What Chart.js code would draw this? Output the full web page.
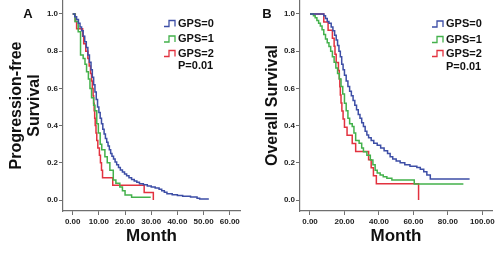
<!DOCTYPE html>
<html>
<head>
<meta charset="utf-8">
<script src="https://cdn.jsdelivr.net/npm/chart.js@4.4.1/dist/chart.umd.min.js"></script>
<style>
body { margin: 0; background: #fff; }
#wrap { position: relative; width: 501px; height: 253px; }
canvas { position: absolute; top: 0; }
#pfs { left: 0; }
#os { left: 250px; }
</style>
</head>
<body>
<div id="wrap">
<canvas id="pfs" width="250" height="253"></canvas>
<canvas id="os" width="251" height="253"></canvas>
</div>
<script>
// groups and labels
var groupLabels = ['GPS=0', 'GPS=1', 'GPS=2'];
var pValueText = 'P=0.01';
var yTicks = [0, 0.2, 0.4, 0.6, 0.8, 1.0];
var pfsXTicks = [0, 10, 20, 30, 40, 50, 60];
var osXTicks = [0, 20, 40, 60, 80, 100];

// progression-free survival, [month, survival]
var pfsGps0 = [[0,1],[0.8,0.985],[1.5,0.97],[2.2,0.95],[2.8,0.93],[3.4,0.91],[4,0.88],[4.6,0.85],[5.2,0.82],[5.8,0.78],[6.4,0.74],[7,0.7],[7.5,0.66],[8,0.62],[8.5,0.58],[9,0.54],[9.5,0.5],[10,0.47],[10.5,0.44],[11,0.41],[11.5,0.38],[12,0.355],[12.5,0.33],[13,0.31],[13.5,0.29],[14,0.27],[14.5,0.25],[15,0.235],[15.6,0.22],[16.2,0.205],[16.8,0.19],[17.5,0.175],[18.2,0.162],[19,0.15],[19.8,0.14],[20.6,0.13],[21.5,0.12],[22.5,0.11],[23.5,0.102],[24.5,0.095],[25.5,0.088],[27,0.082],[28.5,0.076],[30,0.07],[31.5,0.065],[33,0.058],[34,0.05],[35,0.042],[36,0.034],[38,0.028],[40,0.024],[42,0.02],[45,0.016],[47.5,0.01],[48.5,0.006],[52,0.006]];
var pfsGps1 = [[0,1],[0.9,0.96],[2.1,0.905],[3,0.78],[4,0.76],[4.7,0.73],[5.3,0.69],[6,0.65],[6.6,0.6],[7.2,0.55],[8,0.51],[8.5,0.48],[9.2,0.41],[9.8,0.36],[10.5,0.3],[11.1,0.27],[12.3,0.233],[13.2,0.2],[14.2,0.16],[15.5,0.107],[16.5,0.09],[18,0.07],[19,0.05],[20,0.027],[22.5,0.015],[29.8,0.015]];
var pfsGps2 = [[0,1],[1,0.96],[1.5,0.92],[3.8,0.88],[4.2,0.84],[5,0.8],[5.8,0.76],[6.3,0.72],[6.8,0.68],[7.2,0.64],[7.5,0.6],[7.8,0.56],[8,0.52],[8.2,0.48],[8.4,0.44],[8.6,0.4],[8.9,0.36],[9.2,0.32],[9.6,0.28],[10.2,0.24],[10.6,0.2],[11,0.16],[11.4,0.12],[15.3,0.08],[27.3,0.04],[30.8,0]];

// overall survival, [month, survival]
var osGps0 = [[0,1],[8,0.99],[9,0.975],[10,0.96],[11,0.95],[12.3,0.93],[13.3,0.91],[14.3,0.885],[15.2,0.86],[16,0.83],[16.8,0.8],[17.6,0.77],[18.4,0.73],[19.2,0.7],[20,0.67],[21,0.64],[22,0.61],[23,0.585],[24,0.56],[25,0.535],[26,0.51],[27,0.485],[28,0.46],[29,0.44],[30,0.415],[31,0.395],[32,0.37],[33,0.35],[34,0.335],[35.5,0.32],[37,0.305],[39,0.295],[41,0.28],[43,0.265],[45,0.25],[46.5,0.233],[48,0.22],[50,0.21],[52.3,0.2],[55,0.19],[58,0.182],[62,0.175],[64,0.165],[66,0.152],[67.8,0.134],[69.8,0.113],[92.6,0.113]];
var osGps1 = [[0,1],[2,0.99],[3,0.98],[4,0.965],[5,0.95],[6,0.935],[7,0.915],[8,0.89],[9,0.865],[10,0.845],[11,0.825],[12,0.8],[13,0.77],[14,0.74],[15,0.71],[16,0.68],[17,0.65],[18,0.61],[19,0.57],[20,0.52],[21,0.48],[22,0.44],[23,0.41],[24.5,0.395],[25.5,0.36],[26.5,0.32],[28.5,0.305],[30,0.28],[31,0.26],[33,0.24],[35,0.215],[36.5,0.19],[37.8,0.16],[39,0.145],[40.7,0.134],[42.5,0.125],[44.6,0.117],[47.5,0.107],[60.5,0.086],[89,0.086]];
var osGps2 = [[0,1],[8,0.957],[10.5,0.913],[13,0.87],[14,0.826],[14.5,0.783],[15.2,0.739],[16.5,0.696],[17,0.652],[17.3,0.609],[17.6,0.565],[18,0.522],[18.5,0.478],[19.2,0.435],[20,0.391],[21.5,0.348],[24.5,0.304],[26.5,0.261],[34,0.217],[35.5,0.174],[36.8,0.13],[38.5,0.087],[63,0.087],[63,0]];

var groupColors = ['#3d4ea6', '#43b14b', '#e2323f'];
var fontFam = '"Liberation Sans", Arial, sans-serif';

Chart.defaults.font.family = fontFam;
Chart.defaults.color = '#222';

// legend drawn inside the plot, SPSS style
var kmLegend = {
  id: 'kmLegend',
  afterDraw: function(chart, args, o) {
    var ctx = chart.ctx;
    ctx.save();
    ctx.font = 'bold 11px ' + fontFam;
    ctx.textBaseline = 'middle';
    ctx.lineWidth = 1.3;
    chart.data.datasets.forEach(function(ds, i) {
      var y = o.rows[i], x = o.iconX;
      ctx.strokeStyle = ds.borderColor;
      ctx.beginPath();
      ctx.moveTo(x, y + 3);
      ctx.lineTo(x + 5, y + 3);
      ctx.lineTo(x + 5, y - 3);
      ctx.lineTo(x + 11, y - 3);
      ctx.lineTo(x + 11, y + 3);
      ctx.stroke();
      ctx.fillStyle = '#111';
      ctx.fillText(ds.label, o.textX, y);
    });
    ctx.fillText(o.note, o.textX, o.rows[3]);
    ctx.font = 'bold 13px ' + fontFam;
    ctx.textAlign = 'center';
    ctx.fillText(o.panel, o.panelX, o.panelY);
    ctx.restore();
  }
};

function makeSeries(list) {
  return list.map(function(p) { return {x: p[0], y: p[1]}; });
}

function drawKM(id, series, xTicks, xMin, xMax, yTitle, yWidth, yTitlePad, padRight, legendOpts) {
  new Chart(document.getElementById(id), {
    type: 'line',
    data: {
      datasets: series.map(function(s, i) {
        return {
          label: groupLabels[i],
          data: makeSeries(s),
          borderColor: groupColors[i],
          borderWidth: 1.5,
          pointRadius: 0,
          stepped: 'before',
          fill: false
        };
      })
    },
    options: {
      responsive: false,
      animation: false,
      devicePixelRatio: 1,
      layout: { padding: { top: 0, right: padRight, left: 0, bottom: 0 } },
      plugins: { legend: { display: false }, tooltip: { enabled: false }, kmLegend: legendOpts },
      scales: {
        x: {
          type: 'linear', min: xMin, max: xMax,
          afterBuildTicks: function(s) { s.ticks = xTicks.map(function(v) { return {value: v}; }); },
          afterFit: function(s) { s.height = 42; s.paddingLeft = 0; s.paddingRight = 0; },
          grid: { display: true, drawOnChartArea: false, drawTicks: true, tickLength: 4, color: '#6f6f6f' },
          border: { display: true, color: '#6f6f6f', width: 1.2 },
          ticks: { font: { size: 8, weight: 'bold' }, padding: 2, maxRotation: 0, autoSkip: false,
                   callback: function(v) { return v.toFixed(2); } },
          title: { display: true, text: 'Month', color: '#111', font: { size: 17, weight: 'bold' }, padding: { top: 0, bottom: 6 } }
        },
        y: {
          min: -0.059, max: 1.075,
          afterBuildTicks: function(s) { s.ticks = yTicks.map(function(v) { return {value: v}; }); },
          afterFit: function(s) { s.width = yWidth; s.paddingTop = 0; s.paddingBottom = 0; },
          grid: { display: true, drawOnChartArea: false, drawTicks: true, tickLength: 4, color: '#6f6f6f' },
          border: { display: true, color: '#6f6f6f', width: 1.2 },
          ticks: { font: { size: 8, weight: 'bold' }, padding: 1, callback: function(v) { return v.toFixed(1); } },
          title: { display: true, text: yTitle, color: '#111', font: { size: 16, weight: 'bold', lineHeight: 1.1 }, padding: { top: yTitlePad, bottom: 0 } }
        }
      }
    },
    plugins: [kmLegend]
  });
}

drawKM('pfs', [pfsGps0, pfsGps1, pfsGps2], pfsXTicks, -3.7, 63.9,
  ['Progression-free', 'Survival'], 63, 8, 10,
  { iconX: 164, textX: 178, rows: [23.5, 39, 53.5, 66], note: pValueText, panel: 'A', panelX: 28, panelY: 14 });

drawKM('os', [osGps0, osGps1, osGps2], osXTicks, -5.8, 105.6,
  'Overall Survival', 50, 14, 9,
  { iconX: 182, textX: 196, rows: [24, 39.5, 53.5, 67], note: pValueText, panel: 'B', panelX: 17, panelY: 14 });
</script>
</body>
</html>
